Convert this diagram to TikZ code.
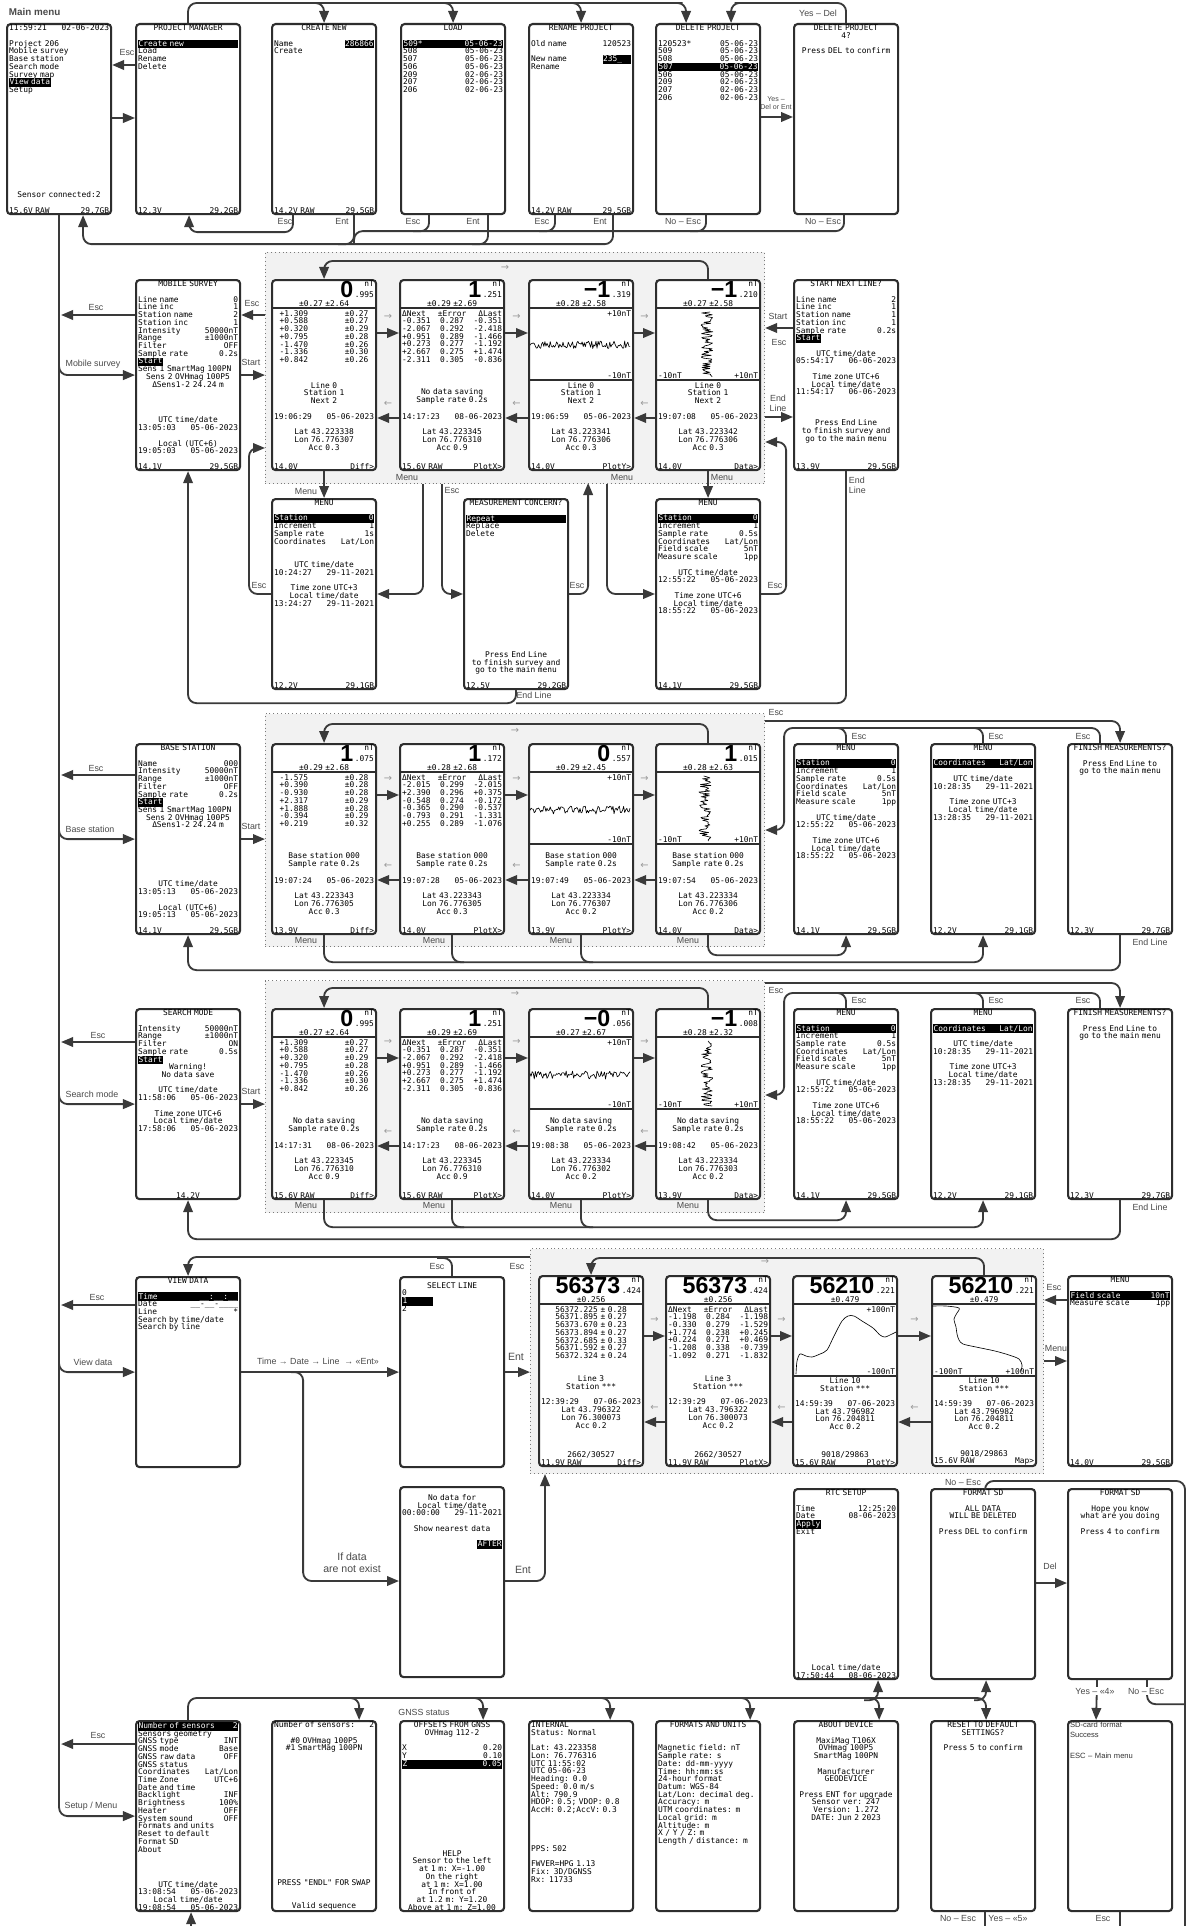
\documentclass[tikz,border=0pt]{standalone}
\usepackage{fontspec}
\usetikzlibrary{arrows.meta, calc}
\newfontfamily\scrfam{DejaVu Sans Mono}
\newfontfamily\lblfam{Liberation Sans}
\newfontfamily\hintfam{DejaVu Sans}
\definecolor{scrgrey}{HTML}{2E2E2E}
\definecolor{lnkgrey}{HTML}{3A3A3A}
\definecolor{lblgrey}{HTML}{4A4A4A}
\definecolor{zonebg}{HTML}{F2F2F2}
\definecolor{zoneline}{HTML}{7A7A7A}
\definecolor{hintgrey}{HTML}{9A9A9A}

\newcommand\scrfont{\scrfam\fontsize{5.6}{5.5}\selectfont\lineskiplimit=-10pt\relax}
\newcommand\lblfont{\lblfam\fontsize{6.3}{7}\selectfont}
\newcommand\bigfont{\lblfam\bfseries\fontsize{16.5}{16.5}\selectfont}
\newcommand\hintfont{\hintfam\fontsize{7}{7}\selectfont}

% screen text helpers
\newlength\scw \setlength\scw{2.5cm}
\newcommand\lr[2]{\makebox[\scw][l]{#1\hfill#2}}
\newcommand\ct[1]{\makebox[\scw][c]{#1}}
\newcommand\rt[1]{\makebox[\scw][r]{#1}}
\newcommand\lri[2]{\makebox[\scw][l]{\hspace{1.4mm}#1\hfill#2\hspace{1.4mm}}}
\newcommand\tri[3]{\makebox[\scw][l]{#1\hfill#2\hfill#3}}
\newcommand\hl[1]{{\setlength\fboxsep{0.4pt}\colorbox{black}{\textcolor{white}{\vphantom{Ay}#1}}}}
\newcommand\hlr[2]{\hl{\makebox[\dimexpr\scw-0.8pt\relax][l]{#1\hfill#2}}}
\newcommand\bk{\mbox{}}
\newcommand\bignum[2]{{\bigfont#1}\hspace{1.2pt}{\scrfont\setbox0\hbox{#2}\rlap{\raisebox{8pt}{\makebox[\wd0][r]{nT}}}\box0}}

\newcounter{tx}
\newcommand\tnode{\stepcounter{tx}\node (t\arabic{tx})}

% screens
\newcommand\scrn[3]{\node[scr] (#1) at (#2,#3) {};}
\newcommand\toptxt[2]{\tnode[sct, anchor=north] at ($(#1.north)+(0,1.5)$) {#2};}
\newcommand\attxt[3]{\tnode[sct, anchor=north] at ($(#1.north)+(0,#2)$) {#3};}
\newcommand\bottxt[2]{\tnode[sct, anchor=south] at ($(#1.south)+(0,-1.5)$) {#2};}
\newcommand\hdr[4]{%
  \tnode[inner sep=0pt, anchor=north east] at ($(#1.north east)+(-3,1)$) {\raisebox{0pt}[\height][0pt]{\bignum{#2}{#3}}};
  \tnode[sct, anchor=south] at ($(#1.north)+(0,28)$) {\ct{#4}};
  \draw[sepline] ($(#1.north west)+(0,29)$) -- ($(#1.north east)+(0,29)$);}
\newcommand\plotx[2]{%
  \draw[sepline] ($(#1.north west)+(0,101)$) -- ($(#1.north east)+(0,101)$);
  \tnode[sct, anchor=north] at ($(#1.north)+(0,31)$) {\rt{+#2}};
  \tnode[sct, anchor=south] at ($(#1.north)+(0,100)$) {\rt{-#2}};}
\newcommand\ploty[2]{%
  \draw[sepline] ($(#1.north west)+(0,101)$) -- ($(#1.north east)+(0,101)$);
  \tnode[sct, anchor=south] at ($(#1.north)+(0,100)$) {\lr{-#2}{+#2}};}
\newcommand\noisex[3]{%
  \begin{scope}[shift={(#1.north west)}]
    \draw[trace] plot[domain=2:102, samples=95] (\x,{#2+#3*rand});
  \end{scope}}
\newcommand\noisey[3]{%
  \begin{scope}[shift={(#1.north west)}]
    \draw[trace] plot[domain=33:98, samples=70] ({#2+#3*rand},\x);
  \end{scope}}
\newcommand\lowp[9]{%
  \tnode[sct, anchor=south] at ($(#1.north)+(0,125)$) {#2};
  \tnode[sct, anchor=north] at ($(#1.north)+(0,134)$) {\lr{#3}{#4}\\\bk\\\ct{Lat #5}\\\ct{Lon #6}\\\ct{Acc #7}};
  \tnode[sct, anchor=south] at ($(#1.south)+(0,-1.5)$) {\lr{#8}{#9}};}
\newcommand\pair[4]{%
  \draw[arr] ($(#1.north east)+(0,#3)$) -- ($(#2.north west)+(0,#3)$);
  \draw[arr] ($(#2.north west)+(0,#4)$) -- ($(#1.north east)+(0,#4)$);
  \tnode[hint] at ($(#1.north east)!0.5!(#2.north west)+(0,#3-16)$) {→};
  \tnode[hint] at ($(#1.north east)!0.5!(#2.north west)+(0,#4-14)$) {←};}
\newcommand\lab[3]{\tnode[lbl] at (#1,#2) {#3};}

\newcommand\difflist{\lri{+1.309}{±0.27}\\\lri{+0.588}{±0.27}\\\lri{+0.320}{±0.29}\\\lri{+0.795}{±0.28}\\\lri{-1.470}{±0.26}\\\lri{-1.336}{±0.30}\\\lri{+0.842}{±0.26}}
\newcommand\errlist{\tri{ΔNext}{±Error}{ΔLast}\\\tri{-0.351}{0.287}{-0.351}\\\tri{-2.067}{0.292}{-2.418}\\\tri{+0.951}{0.289}{-1.466}\\\tri{+0.273}{0.277}{-1.192}\\\tri{+2.667}{0.275}{+1.474}\\\tri{-2.311}{0.305}{-0.836}}
\newcommand\menufull[1]{%
  \toptxt{#1}{\ct{MENU}\\\bk\\\hlr{Station}{0}\\\lr{Increment}{1}\\\lr{Sample rate}{0.5s}\\\lr{Coordinates}{Lat/Lon}\\\lr{Field scale}{5nT}\\\lr{Measure scale}{1pp}\\\bk\\\ct{UTC time/date}\\\lr{12:55:22}{05-06-2023}\\\bk\\\ct{Time zone UTC+6}\\\ct{Local time/date}\\\lr{18:55:22}{05-06-2023}}
  \bottxt{#1}{\lr{14.1V}{29.5GB}}}
\newcommand\menucoord[1]{%
  \toptxt{#1}{\ct{MENU}\\\bk\\\hlr{Coordinates}{Lat/Lon}\\\bk\\\ct{UTC time/date}\\\lr{10:28:35}{29-11-2021}\\\bk\\\ct{Time zone UTC+3}\\\ct{Local time/date}\\\lr{13:28:35}{29-11-2021}}
  \bottxt{#1}{\lr{12.2V}{29.1GB}}}
\newcommand\finish[1]{%
  \toptxt{#1}{\ct{FINISH MEASUREMENTS?}\\\bk\\\ct{Press End Line to}\\\ct{go to the main menu}}
  \bottxt{#1}{\lr{12.3V}{29.7GB}}}

\begin{document}
\begin{tikzpicture}[x=0.025cm, y=-0.025cm,
  scr/.style={draw=scrgrey, line width=1.5pt, rounded corners=2.5pt, fill=white,
    minimum width=2.6cm, minimum height=4.75cm, inner sep=0pt, anchor=north west},
  sct/.style={font=\scrfont, text width=2.5cm, align=left, inner sep=0pt},
  zone/.style={draw=zoneline, dotted, line width=0.7pt, fill=zonebg, anchor=north west, inner sep=0pt},
  arr/.style={-{Triangle[length=3mm,width=2.4mm]}, line width=1.3pt, draw=lnkgrey, rounded corners=6pt},
  lnk/.style={line width=1.3pt, draw=lnkgrey, rounded corners=6pt},
  lbl/.style={font=\lblfont, text=lblgrey, inner sep=0.5pt, align=center},
  hint/.style={font=\hintfont, text=hintgrey, inner sep=0pt},
  sepline/.style={line width=0.9pt, draw=scrgrey},
  trace/.style={line width=0.45pt, draw=black, line join=round}]
\useasboundingbox (0,0) rectangle (1192,1926);
\fill[white] (0,0) rectangle (1192,1926);
\pgfmathsetseed{11}

% grey zones of the live screens
\node[zone, minimum width=12.475cm, minimum height=5.775cm] (mzone) at (265,252) {};
\node[zone, minimum width=12.475cm, minimum height=5.825cm] (bzone) at (265,713) {};
\node[zone, minimum width=12.475cm, minimum height=5.8cm] (szone) at (265,980) {};
\node[zone, minimum width=12.825cm, minimum height=5.625cm] (vzone) at (530,1248) {};

%% project row
\tnode[font=\lblfam\bfseries\fontsize{7}{8}\selectfont, text=lblgrey, anchor=west] at (4,12) {Main menu};
\scrn{mm}{6}{23}
\toptxt{mm}{\lr{11:59:21}{02-06-2023}\\\bk\\Project 206\\Mobile survey\\Base station\\Search mode\\Survey map\\\hl{View data}\\Setup}
\bottxt{mm}{\ct{Sensor connected:2}\\\bk\\\lr{15.6V RAW}{29.7GB}}
\scrn{pm}{135}{23}
\toptxt{pm}{\ct{PROJECT MANAGER}\\\bk\\\hlr{Create new}{}\\Load\\Rename\\Delete}
\bottxt{pm}{\lr{12.3V}{29.2GB}}
\scrn{cn}{271}{23}
\toptxt{cn}{\ct{CREATE NEW}\\\bk\\\lr{Name}{\hl{286866}}\\Create}
\bottxt{cn}{\lr{14.2V RAW}{29.5GB}}
\scrn{ld}{400}{23}
\toptxt{ld}{\ct{LOAD}\\\bk\\\hlr{509*}{05-06-23}\\\lr{508}{05-06-23}\\\lr{507}{05-06-23}\\\lr{506}{05-06-23}\\\lr{209}{02-06-23}\\\lr{207}{02-06-23}\\\lr{206}{02-06-23}}
\scrn{rn}{528}{23}
\toptxt{rn}{\ct{RENAME PROJECT}\\\bk\\\lr{Old name}{120523}\\\bk\\\lr{New name}{\hl{235\_\hspace{6pt}}}\\Rename}
\bottxt{rn}{\lr{14.2V RAW}{29.5GB}}
\scrn{dl}{655}{23}
\toptxt{dl}{\ct{DELETE PROJECT}\\\bk\\\lr{120523*}{05-06-23}\\\lr{509}{05-06-23}\\\lr{508}{05-06-23}\\\hlr{507}{05-06-23}\\\lr{506}{05-06-23}\\\lr{209}{02-06-23}\\\lr{207}{02-06-23}\\\lr{206}{02-06-23}}
\scrn{dc}{793}{23}
\toptxt{dc}{\ct{DELETE PROJECT}\\\ct{4?}\\\bk\\\ct{Press DEL to confirm}}

\draw[arr] ($(pm.north west)+(0,42)$) -- ($(mm.north east)+(0,42)$);
\draw[arr] ($(mm.north east)+(0,95)$) -- ($(pm.north west)+(0,95)$);
\draw[arr] (pm.north) |- ($(dl.north)+(-34,-20)$) -| ($(dl.north)+(-22,0)$);
\draw[arr] ($(cn.north)+(-12,-20)$) -| (cn.north);
\draw[arr] ($(ld.north)+(-12,-20)$) -| (ld.north);
\draw[arr] ($(rn.north)+(-12,-20)$) -| (rn.north);
\draw[arr] (dc.north) |- ($(dl.north)+(35,-20)$) -| ($(dl.north)+(23,0)$);
\draw[arr] ($(dl.north east)+(0,94)$) -- ($(dc.north west)+(0,94)$);
\draw[arr] ($(cn.south)+(-31,0)$) -- ++(0,17) -| ($(pm.south)+(1,0)$);
\draw[arr] ($(rn.south)+(32,0)$) |- ($(mm.south)+(24,29)$) -- ($(mm.south)+(24,0)$);
\draw[lnk] ($(cn.south)+(30,0)$) |- ($(cn.south)+(14,29)$);
\draw[lnk] ($(ld.south)+(35,0)$) |- ($(ld.south)+(19,29)$);
\draw[lnk] ($(dc.south)+(-2,0)$) |- ($(cn.south)+(30,16)$) -- ($(cn.south)+(30,29)$);
\draw[lnk] ($(ld.south)+(-24,0)$) |- ($(ld.south)+(-40,16)$);
\draw[lnk] ($(rn.south)+(-26,0)$) |- ($(rn.south)+(-42,16)$);
\draw[lnk] ($(dl.south)+(-2,0)$) |- ($(dl.south)+(-18,16)$);
\lab{127}{52}{Esc}
\lab{818}{13}{Yes – Del}
\tnode[lbl, font=\lblfam\fontsize{5}{5.5}\selectfont] at (776,103) {Yes –\\Del or Ent};
\lab{285}{221}{Esc} \lab{342}{221}{Ent} \lab{413}{221}{Esc} \lab{473}{221}{Ent}
\lab{542}{221}{Esc} \lab{600}{221}{Ent} \lab{683}{221}{No – Esc} \lab{823}{221}{No – Esc}

%% mobile survey
\scrn{ms}{135}{279}
\toptxt{ms}{\ct{MOBILE SURVEY}\\\bk\\\lr{Line name}{0}\\\lr{Line inc}{1}\\\lr{Station name}{2}\\\lr{Station inc}{1}\\\lr{Intensity}{50000nT}\\\lr{Range}{±1000nT}\\\lr{Filter}{OFF}\\\lr{Sample rate}{0.2s}\\\hl{Start}\\Sens 1 SmartMag 100PN\\\ct{Sens 2 OVHmag 100P5}\\\ct{ΔSens1-2 24.24 m}}
\bottxt{ms}{\ct{UTC time/date}\\\lr{13:05:03}{05-06-2023}\\\bk\\\ct{Local (UTC+6)}\\\lr{19:05:03}{05-06-2023}\\\bk\\\lr{14.1V}{29.5GB}}
\scrn{m1}{271}{279}
\hdr{m1}{0}{.995}{±0.27 ±2.64}
\attxt{m1}{31}{\difflist}
\lowp{m1}{\ct{Line 0}\\\ct{Station 1}\\\ct{Next 2}}{19:06:29}{05-06-2023}{43.223338}{76.776307}{0.3}{14.0V}{Diff>}
\scrn{m2}{399}{279}
\hdr{m2}{1}{.251}{±0.29 ±2.69}
\attxt{m2}{31}{\errlist}
\lowp{m2}{\ct{No data saving}\\\ct{Sample rate 0.2s}}{14:17:23}{08-06-2023}{43.223345}{76.776310}{0.9}{15.6V RAW}{PlotX>}
\scrn{m3}{528}{279}
\hdr{m3}{−1}{.319}{±0.28 ±2.58}
\plotx{m3}{10nT} \noisex{m3}{66}{4}
\lowp{m3}{\ct{Line 0}\\\ct{Station 1}\\\ct{Next 2}}{19:06:59}{05-06-2023}{43.223341}{76.776306}{0.3}{14.0V}{PlotY>}
\scrn{m4}{655}{279}
\hdr{m4}{−1}{.210}{±0.27 ±2.58}
\ploty{m4}{10nT} \noisey{m4}{52}{6}
\lowp{m4}{\ct{Line 0}\\\ct{Station 1}\\\ct{Next 2}}{19:07:08}{05-06-2023}{43.223342}{76.776306}{0.3}{14.0V}{Data>}
\scrn{snl}{793}{279}
\toptxt{snl}{\ct{START NEXT LINE?}\\\bk\\\lr{Line name}{2}\\\lr{Line inc}{1}\\\lr{Station name}{1}\\\lr{Station inc}{1}\\\lr{Sample rate}{0.2s}\\\hl{Start}\\\bk\\\ct{UTC time/date}\\\lr{05:54:17}{06-06-2023}\\\bk\\\ct{Time zone UTC+6}\\\ct{Local time/date}\\\lr{11:54:17}{06-06-2023}\\\bk\\\bk\\\bk\\\ct{Press End Line}\\\ct{to finish survey and}\\\ct{go to the main menu}}
\bottxt{snl}{\lr{13.9V}{29.5GB}}
\scrn{mn1}{271}{498}
\toptxt{mn1}{\ct{MENU}\\\bk\\\hlr{Station}{0}\\\lr{Increment}{1}\\\lr{Sample rate}{1s}\\\lr{Coordinates}{Lat/Lon}\\\bk\\\bk\\\ct{UTC time/date}\\\lr{10:24:27}{29-11-2021}\\\bk\\\ct{Time zone UTC+3}\\\ct{Local time/date}\\\lr{13:24:27}{29-11-2021}}
\bottxt{mn1}{\lr{12.2V}{29.1GB}}
\scrn{mc}{463}{498}
\toptxt{mc}{\ct{MEASUREMENT CONCERN?}\\\bk\\\hlr{Repeat}{}\\Replace\\Delete}
\bottxt{mc}{\ct{Press End Line}\\\ct{to finish survey and}\\\ct{go to the main menu}\\\bk\\\lr{12.5V}{29.2GB}}
\scrn{mn2}{655}{498}
\menufull{mn2}

\draw[arr] ($(mm.south |- ms.west)+(0,-18)$) |- (ms.west);
\draw[arr] ($(ms.north west)+(0,36)$) -- ($(mm.south |- ms.north west)+(2,36)$);
\draw[arr] (ms.east) -- (ms.east -| mzone.west);
\draw[arr] ($(mzone.west |- ms.north)+(0,36)$) -- ($(ms.north east)+(0,36)$);
\pair{m1}{m2}{54}{139} \pair{m2}{m3}{54}{139} \pair{m3}{m4}{54}{139}
\draw[arr] (m4.north) -- ++(0,-18) -| (m1.north);
\tnode[hint] at (505,268) {→};
\draw[arr] (m1.south) -- (mn1.north);
\draw[arr] ($(mn1.north west)+(0,96)$) -- ++(-22,0) |- ($(mzone.north west)+(0,196)$);
\draw[arr] ($(m2.south)+(-29,13)$) |- ($(mn1.north east)+(0,96)$);
\draw[arr] ($(m2.south)+(-10,13)$) |- ($(mc.north west)+(0,96)$);
\draw[arr] ($(mc.north east)+(0,96)$) -| ($(mc.north east)+(19,-15)$);
\draw[arr] (mc.south) |- ($(ms.south)+(0,232)$) -- (ms.south);
\draw[lnk] (snl.south) |- ($(mc.south)+(0,13)$);
\draw[arr] ($(m3.south)+(26,13)$) |- ($(mn2.north west)+(0,96)$);
\draw[arr] (m4.south) -- (mn2.north);
\draw[arr] ($(mn2.north east)+(0,96)$) -- ++(25,0) |- ($(mzone.north east)+(0,190)$);
\draw[arr] ($(snl.north west)+(0,49)$) -- ($(mzone.north east |- snl.north west)+(0,49)$);
\draw[arr] ($(mzone.north east |- snl.north west)+(0,138)$) -- ($(snl.north west)+(0,138)$);
\lab{96}{307}{Esc} \lab{93}{364}{Mobile survey}
\lab{252}{303}{Esc} \lab{251}{362}{Start}
\lab{306}{491}{Menu} \lab{407}{477}{Menu} \lab{452}{490}{Esc}
\lab{259}{585}{Esc} \lab{577}{585}{Esc} \lab{775}{585}{Esc}
\lab{622}{477}{Menu} \lab{722}{477}{Menu}
\lab{534}{695}{End Line}
\tnode[lbl, anchor=north west, align=left] at (848,476) {End\\Line};
\lab{778}{316}{Start} \lab{779}{342}{Esc}
\tnode[lbl] at (778,403) {End\\Line};

%% base station
\scrn{bs}{135}{743}
\toptxt{bs}{\ct{BASE STATION}\\\bk\\\lr{Name}{000}\\\lr{Intensity}{50000nT}\\\lr{Range}{±1000nT}\\\lr{Filter}{OFF}\\\lr{Sample rate}{0.2s}\\\hl{Start}\\Sens 1 SmartMag 100PN\\\ct{Sens 2 OVHmag 100P5}\\\ct{ΔSens1-2 24.24 m}}
\bottxt{bs}{\ct{UTC time/date}\\\lr{13:05:13}{05-06-2023}\\\bk\\\ct{Local (UTC+6)}\\\lr{19:05:13}{05-06-2023}\\\bk\\\lr{14.1V}{29.5GB}}
\scrn{b1}{271}{743}
\hdr{b1}{1}{.075}{±0.29 ±2.68}
\attxt{b1}{31}{\lri{-1.575}{±0.28}\\\lri{+0.390}{±0.28}\\\lri{-0.930}{±0.28}\\\lri{+2.317}{±0.29}\\\lri{+1.888}{±0.28}\\\lri{-0.394}{±0.29}\\\lri{+0.219}{±0.32}}
\lowp{b1}{\ct{Base station 000}\\\ct{Sample rate 0.2s}}{19:07:24}{05-06-2023}{43.223343}{76.776305}{0.3}{13.9V}{Diff>}
\scrn{b2}{399}{743}
\hdr{b2}{1}{.172}{±0.28 ±2.68}
\attxt{b2}{31}{\tri{ΔNext}{±Error}{ΔLast}\\\tri{-2.015}{0.299}{-2.015}\\\tri{+2.390}{0.296}{+0.375}\\\tri{-0.548}{0.274}{-0.172}\\\tri{-0.365}{0.290}{-0.537}\\\tri{-0.793}{0.291}{-1.331}\\\tri{+0.255}{0.289}{-1.076}}
\lowp{b2}{\ct{Base station 000}\\\ct{Sample rate 0.2s}}{19:07:28}{05-06-2023}{43.223343}{76.776305}{0.3}{14.0V}{PlotX>}
\scrn{b3}{528}{743}
\hdr{b3}{0}{.557}{±0.29 ±2.45}
\plotx{b3}{10nT} \noisex{b3}{67}{4}
\lowp{b3}{\ct{Base station 000}\\\ct{Sample rate 0.2s}}{19:07:49}{05-06-2023}{43.223334}{76.776307}{0.2}{13.9V}{PlotY>}
\scrn{b4}{655}{743}
\hdr{b4}{1}{.015}{±0.28 ±2.63}
\ploty{b4}{10nT} \noisey{b4}{50}{6}
\lowp{b4}{\ct{Base station 000}\\\ct{Sample rate 0.2s}}{19:07:54}{05-06-2023}{43.223334}{76.776306}{0.2}{14.0V}{Data>}
\scrn{bm1}{793}{743} \menufull{bm1}
\scrn{bm2}{930}{743} \menucoord{bm2}
\scrn{bfin}{1067}{743} \finish{bfin}

\draw[arr] ($(mm.south |- bs.west)+(0,-18)$) |- (bs.west);
\draw[arr] ($(bs.north west)+(0,32)$) -- ($(mm.south |- bs.north west)+(2,32)$);
\draw[arr] (bs.east) -- (bs.east -| bzone.west);
\pair{b1}{b2}{52}{137} \pair{b2}{b3}{52}{137} \pair{b3}{b4}{52}{137}
\draw[arr] (b4.north) -- ++(0,-19) -| (b1.north);
\tnode[hint] at (515,731) {→};
\draw[arr] ($(bzone.north east)+(0,8)$) -| (bfin.north);
\draw[arr] ($(bfin.north)+(-20,0)$) |- ($(bzone.north east)+(19,15)$) |- ($(bzone.north east)+(0,117)$);
\draw[lnk] (bm1.north) |- ($(bm1.north)+(-14,-15)$);
\draw[lnk] (bm2.north) |- ($(bm2.north)+(-14,-15)$);
\draw[arr] (b4.south) -- ++(0,20) -| (bm1.south);
\draw[arr] (b1.south) -- ++(0,27) -| (bm2.south);
\draw[lnk] (b2.south) |- ($(b2.south)+(12,27)$);
\draw[lnk] (b3.south) |- ($(b3.south)+(12,27)$);
\draw[arr] (bfin.south) -- ++(0,35) -| (bs.south);
\lab{96}{768}{Esc} \lab{90}{829}{Base station} \lab{251}{826}{Start}
\lab{306}{940}{Menu} \lab{434}{940}{Menu} \lab{561}{940}{Menu} \lab{688}{940}{Menu}
\lab{776}{712}{Esc} \lab{859}{736}{Esc} \lab{996}{736}{Esc} \lab{1083}{736}{Esc}
\lab{1150}{942}{End Line}

%% search mode
\scrn{sm}{135}{1008}
\toptxt{sm}{\ct{SEARCH MODE}\\\bk\\\lr{Intensity}{50000nT}\\\lr{Range}{±1000nT}\\\lr{Filter}{ON}\\\lr{Sample rate}{0.5s}\\\hl{Start}\\\ct{Warning!}\\\ct{No data save}\\\bk\\\ct{UTC time/date}\\\lr{11:58:06}{05-06-2023}\\\bk\\\ct{Time zone UTC+6}\\\ct{Local time/date}\\\lr{17:58:06}{05-06-2023}}
\bottxt{sm}{\ct{14.2V}}
\scrn{s1}{271}{1008}
\hdr{s1}{0}{.995}{±0.27 ±2.64}
\attxt{s1}{31}{\difflist}
\lowp{s1}{\ct{No data saving}\\\ct{Sample rate 0.2s}}{14:17:31}{08-06-2023}{43.223345}{76.776310}{0.9}{15.6V RAW}{Diff>}
\scrn{s2}{399}{1008}
\hdr{s2}{1}{.251}{±0.29 ±2.69}
\attxt{s2}{31}{\errlist}
\lowp{s2}{\ct{No data saving}\\\ct{Sample rate 0.2s}}{14:17:23}{08-06-2023}{43.223345}{76.776310}{0.9}{15.6V RAW}{PlotX>}
\scrn{s3}{528}{1008}
\hdr{s3}{−0}{.056}{±0.27 ±2.67}
\plotx{s3}{10nT} \noisex{s3}{67}{4}
\lowp{s3}{\ct{No data saving}\\\ct{Sample rate 0.2s}}{19:08:38}{05-06-2023}{43.223334}{76.776302}{0.2}{14.0V}{PlotY>}
\scrn{s4}{655}{1008}
\hdr{s4}{−1}{.008}{±0.28 ±2.32}
\ploty{s4}{10nT} \noisey{s4}{52}{6}
\lowp{s4}{\ct{No data saving}\\\ct{Sample rate 0.2s}}{19:08:42}{05-06-2023}{43.223334}{76.776303}{0.2}{13.9V}{Data>}
\scrn{sm1}{793}{1008} \menufull{sm1}
\scrn{sm2}{930}{1008} \menucoord{sm2}
\scrn{sfin}{1067}{1008} \finish{sfin}

\draw[arr] ($(mm.south |- sm.west)+(0,-18)$) |- (sm.west);
\draw[arr] ($(sm.north west)+(0,34)$) -- ($(mm.south |- sm.north west)+(2,34)$);
\draw[arr] (sm.east) -- (sm.east -| szone.west);
\pair{s1}{s2}{50}{138} \pair{s2}{s3}{50}{138} \pair{s3}{s4}{50}{138}
\draw[arr] (s4.north) -- ++(0,-20) -| (s1.north);
\tnode[hint] at (515,994) {→};
\draw[arr] ($(szone.north east)+(0,3)$) -| (sfin.north);
\draw[arr] ($(sfin.north)+(-20,0)$) |- ($(szone.north east)+(19,13)$) |- ($(szone.north east)+(0,115)$);
\draw[lnk] (sm1.north) |- ($(sm1.north)+(-14,-15)$);
\draw[lnk] (sm2.north) |- ($(sm2.north)+(-14,-15)$);
\draw[arr] (s4.south) -- ++(0,20) -| (sm1.south);
\draw[arr] (s1.south) -- ++(0,27) -| (sm2.south);
\draw[lnk] (s2.south) |- ($(s2.south)+(12,27)$);
\draw[lnk] (s3.south) |- ($(s3.south)+(12,27)$);
\draw[arr] (sfin.south) -- ++(0,39) -| (sm.south);
\lab{98}{1035}{Esc} \lab{92}{1094}{Search mode} \lab{251}{1091}{Start}
\lab{306}{1205}{Menu} \lab{434}{1205}{Menu} \lab{561}{1205}{Menu} \lab{688}{1205}{Menu}
\lab{776}{990}{Esc} \lab{859}{1000}{Esc} \lab{996}{1000}{Esc} \lab{1083}{1000}{Esc}
\lab{1150}{1207}{End Line}

%% view data
\scrn{vd}{135}{1276}
\toptxt{vd}{\ct{VIEW DATA}\\\bk\\\hlr{Time}{\_\_:\_\_:\_\_}\\\lr{Date}{\_\_-\_\_-\_\_\_\_}\\\lr{Line}{*}\\Search by time/date\\Search by line}
\scrn{sl}{399}{1276}
\attxt{sl}{6}{\ct{SELECT LINE}\\0\\\hl{1\hspace{18pt}}\\2}
\scrn{v1}{538}{1275}
\hdr{v1}{56373}{.424}{±0.256}
\attxt{v1}{31}{\ct{56372.225 ± 0.28}\\\ct{56371.895 ± 0.27}\\\ct{56373.670 ± 0.23}\\\ct{56373.894 ± 0.27}\\\ct{56372.685 ± 0.33}\\\ct{56371.592 ± 0.27}\\\ct{56372.324 ± 0.24}\\\bk\\\bk\\\ct{Line 3}\\\ct{Station ***}\\\bk\\\lr{12:39:29}{07-06-2023}\\\ct{Lat 43.796322}\\\ct{Lon 76.300073}\\\ct{Acc 0.2}}
\bottxt{v1}{\ct{2662/30527}\\\lr{11.9V RAW}{Diff>}}
\scrn{v2}{665}{1275}
\hdr{v2}{56373}{.424}{±0.256}
\attxt{v2}{31}{\tri{ΔNext}{±Error}{ΔLast}\\\tri{-1.198}{0.284}{-1.198}\\\tri{-0.330}{0.279}{-1.529}\\\tri{+1.774}{0.238}{+0.245}\\\tri{+0.224}{0.271}{+0.469}\\\tri{-1.208}{0.338}{-0.739}\\\tri{-1.092}{0.271}{-1.832}\\\bk\\\bk\\\ct{Line 3}\\\ct{Station ***}\\\bk\\\lr{12:39:29}{07-06-2023}\\\ct{Lat 43.796322}\\\ct{Lon 76.300073}\\\ct{Acc 0.2}}
\bottxt{v2}{\ct{2662/30527}\\\lr{11.9V RAW}{PlotX>}}
\scrn{v3}{792}{1275}
\hdr{v3}{56210}{.221}{±0.479}
\plotx{v3}{100nT}
\begin{scope}[shift={(v3.north west)}]
  \draw[trace] plot[smooth] coordinates {(4,99) (5,86) (8,79) (14,81) (20,82) (28,79) (35,75) (42,61) (50,46) (56,41) (62,41) (70,46) (81,53) (88,60) (93,62) (100,59) (104,57)};
\end{scope}
\attxt{v3}{102}{\ct{Line 10}\\\ct{Station ***}\\\bk\\\lr{14:59:39}{07-06-2023}\\\ct{Lat 43.796982}\\\ct{Lon 76.204811}\\\ct{Acc 0.2}}
\bottxt{v3}{\ct{9018/29863}\\\lr{15.6V RAW}{PlotY>}}
\scrn{v4}{931}{1275}
\hdr{v4}{56210}{.221}{±0.479}
\ploty{v4}{100nT}
\begin{scope}[shift={(v4.north west)}]
  \draw[trace] plot[smooth] coordinates {(1,31) (15,31) (28,33) (26,38) (23,44) (25,52) (26,59) (28,65) (32,69) (45,72) (64,76) (78,80) (88,84) (91,90) (90,96)};
\end{scope}
\attxt{v4}{102}{\ct{Line 10}\\\ct{Station ***}\\\bk\\\lr{14:59:39}{07-06-2023}\\\ct{Lat 43.796982}\\\ct{Lon 76.204811}\\\ct{Acc 0.2}}
\bottxt{v4}{\ct{9018/29863}\\\lr{15.6V RAW}{Map>}}
\scrn{vm}{1067}{1275}
\toptxt{vm}{\ct{MENU}\\\bk\\\hlr{Field scale}{10nT}\\\lr{Measure scale}{1pp}}
\bottxt{vm}{\lr{14.0V}{29.5GB}}

%% no data, clock and format screens
\scrn{nd}{399}{1486}
\attxt{nd}{8}{\ct{No data for}\\\ct{Local time/date}\\\lr{00:00:00}{29-11-2021}\\\bk\\\ct{Show nearest data}\\\bk\\\rt{\hl{AFTER}}}
\scrn{rtc}{793}{1488}
\toptxt{rtc}{\ct{RTC SETUP}\\\bk\\\lr{Time}{12:25:20}\\\lr{Date}{08-06-2023}\\\hl{Apply}\\Exit}
\bottxt{rtc}{\ct{Local time/date}\\\lr{17:50:44}{08-06-2023}}
\scrn{fsd}{930}{1488}
\toptxt{fsd}{\ct{FORMAT SD}\\\bk\\\ct{ALL DATA}\\\ct{WILL BE DELETED}\\\bk\\\ct{Press DEL to confirm}}
\scrn{fsd2}{1067}{1488}
\toptxt{fsd2}{\ct{FORMAT SD}\\\bk\\\ct{Hope you know}\\\ct{what are you doing}\\\bk\\\ct{Press 4 to confirm}}

\draw[arr] ($(mm.south |- vd.west)+(0,-18)$) |- (vd.west);
\draw[arr] ($(vd.north west)+(0,29)$) -- ($(mm.south |- vd.north west)+(2,29)$);
\draw[arr] (vd.east) -- (sl.west);
\draw[arr] ($(vd.east)+(50,0)$) -| ($(vd.east)+(62,100)$) |- ($(nd.north west)+(0,95)$);
\draw[arr] (sl.east) -- (sl.east -| vzone.west);
\draw[arr] ($(nd.north east)+(0,95)$) -| ($(vzone.south west)+(15,0)$);
\draw[arr] ($(vzone.north west)+(0,9)$) -| (vd.north);
\draw[lnk] (sl.north) |- ($(sl.north)+(-15,-18)$);
\pair{v1}{v2}{61}{147} \pair{v2}{v3}{61}{147} \pair{v3}{v4}{61}{147}
\draw[arr] (v4.north) -- ++(0,-17) -| (v1.north);
\tnode[hint] at (765,1262) {→};
\draw[arr] ($(vm.north west)+(0,25)$) -- ($(vzone.north east |- vm.north west)+(0,25)$);
\draw[arr] ($(vzone.north east |- vm.north west)+(0,86)$) -- ($(vm.north west)+(0,86)$);
\lab{97}{1297}{Esc} \lab{93}{1362}{View data}
\lab{318}{1361}{Time → Date → Line \ → «Ent»}
\lab{437}{1266}{Esc} \lab{517}{1266}{Esc}
\tnode[lbl, font=\lblfam\fontsize{7.5}{8.5}\selectfont] at (516,1357) {Ent};
\tnode[lbl, font=\lblfam\fontsize{7.5}{8.5}\selectfont] at (352,1563) {If data\\are not exist};
\tnode[lbl, font=\lblfam\fontsize{7.5}{8.5}\selectfont] at (523,1570) {Ent};
\lab{1054}{1287}{Esc} \lab{1056}{1348}{Menu}

%% setup row
\scrn{st}{135}{1720}
\toptxt{st}{\hlr{Number of sensors}{2}\\Sensors geometry\\\lr{GNSS type}{INT}\\\lr{GNSS mode}{Base}\\\lr{GNSS raw data}{OFF}\\GNSS status\\\lr{Coordinates}{Lat/Lon}\\\lr{Time Zone}{UTC+6}\\Date and time\\\lr{Backlight}{INF}\\\lr{Brightness}{100\%}\\\lr{Heater}{OFF}\\\lr{System sound}{OFF}\\Formats and units\\Reset to default\\Format SD\\About}
\bottxt{st}{\ct{UTC time/date}\\\lr{13:08:54}{05-06-2023}\\\ct{Local time/date}\\\lr{19:08:54}{05-06-2023}}
\scrn{ns}{271}{1720}
\toptxt{ns}{\lr{Number of sensors:}{2}\\\bk\\\ct{\#0 OVHmag 100P5}\\\ct{\#1 SmartMag 100PN}}
\bottxt{ns}{\ct{PRESS "ENDL" FOR SWAP}\\\bk\\\bk\\\ct{Valid sequence}}
\scrn{gn}{399}{1720}
\toptxt{gn}{\ct{OFFSETS FROM GNSS}\\\ct{OVHmag 112-2}\\\bk\\\lr{X}{0.20}\\\lr{Y}{0.10}\\\hlr{Z}{0.05}}
\bottxt{gn}{\ct{HELP}\\\ct{Sensor to the left}\\\ct{at 1 m: X=-1.00}\\\ct{On the right}\\\ct{at 1 m: X=1.00}\\\ct{In front of}\\\ct{at 1.2 m: Y=1.20}\\\ct{Above at 1 m: Z=1.00}}
\scrn{it}{528}{1720}
\toptxt{it}{INTERNAL\\Status: Normal\\\bk\\Lat: 43.223358\\Lon: 76.776316\\UTC 11:55:02\\UTC 05-06-23\\Heading: 0.0\\Speed: 0.0 m/s\\Alt: 790.9\\HDOP: 0.5; VDOP: 0.8\\AccH: 0.2;AccV: 0.3\\\bk\\\bk\\\bk\\\bk\\PPS: 502\\\bk\\FWVER=HPG 1.13\\Fix: 3D/DGNSS\\Rx: 11733}
\scrn{fu}{655}{1720}
\toptxt{fu}{\ct{FORMATS AND UNITS}\\\bk\\\bk\\Magnetic field: nT\\Sample rate: s\\Date: dd-mm-yyyy\\Time: hh:mm:ss\\24-hour format\\Datum: WGS-84\\Lat/Lon: decimal deg.\\Accuracy: m\\UTM coordinates: m\\Local grid: m\\Altitude: m\\X / Y / Z: m\\Length / distance: m}
\scrn{ab}{793}{1720}
\toptxt{ab}{\ct{ABOUT DEVICE}\\\bk\\\ct{MaxiMag T106X}\\\ct{OVHmag 100P5}\\\ct{SmartMag 100PN}\\\bk\\\ct{Manufacturer}\\\ct{GEODEVICE}\\\bk\\\ct{Press ENT for upgrade}\\\ct{Sensor ver: 247}\\\ct{Version: 1.272}\\\ct{DATE: Jun 2 2023}}
\scrn{rs}{930}{1720}
\toptxt{rs}{\ct{RESET TO DEFAULT}\\\ct{SETTINGS?}\\\bk\\\ct{Press 5 to confirm}}
\scrn{sdok}{1067}{1720}
\tnode[sct, font=\lblfam\fontsize{5.4}{7.2}\selectfont, text=black!80, anchor=north] at ($(sdok.north)+(0,2)$) {SD-card format\\Success\\\bk\\ESC – Main menu};

\draw[arr] (mm.south) |- (st.west);
\coordinate (rside) at (1185,1926);
\coordinate (stin) at ($(st.south)+(3,16)$);
\coordinate (stesc) at ($(mm.south |- st.north west)+(2,24)$);
\draw[arr] ($(st.north west)+(0,24)$) -- (stesc);
\draw[arr] ($(fsd.north east)+(0,95)$) -- ($(fsd2.north west)+(0,95)$);
\draw[lnk] ($(fsd.north)+(2,0)$) |- ($(rside |- fsd.north)+(0,-7)$) -- (rside);
\draw[lnk] ($(fsd2.south)+(27,0)$) |- ($(rside |- fsd2.south)+(0,24)$);
\draw[arr] ($(fsd2.south)+(-23,0)$) -- ($(sdok.north)+(-24,0)$);
\draw[lnk] (st.north) |- ($(rs.north)+(-10,-22)$);
\draw[arr] ($(ns.north east)+(-32,-22)$) -| ($(ns.north east)+(-18,0)$);
\draw[arr] ($(gn.north east)+(-36,-22)$) -| ($(gn.north east)+(-22,0)$);
\draw[arr] ($(it.north east)+(-38,-22)$) -| ($(it.north east)+(-24,0)$);
\draw[arr] ($(fu.north east)+(-25,-22)$) -| ($(fu.north east)+(-11,0)$);
\draw[arr] ($(ab.north east)+(-36,-22)$) -| ($(ab.north east)+(-20,0)$);
\draw[arr] ($(rs.north)+(-10,-22)$) -| ($(rs.north)+(3,0)$);
\draw[arr] ($(rtc.south)+(18,20)$) -| ($(rtc.south)+(32,0)$);
\draw[arr] ($(fsd.south)+(-9,20)$) -| ($(fsd.south)+(3,0)$);
\draw[arr] (stin) -- ($(st.south)+(3,0)$);
\draw[lnk] ($(rs.south)+(2,0)$) -- ++(0,16);
\draw[lnk] (sdok.south) -- ++(0,16);
\lab{963}{1482}{No – Esc} \lab{1050}{1566}{Del}
\tnode[lbl, fill=white] at (1095,1691) {Yes – «4»};
\tnode[lbl, fill=white] at (1146,1691) {No – Esc};
\lab{98}{1735}{Esc} \lab{91}{1806}{Setup / Menu}
\lab{424}{1712}{GNSS status}
\lab{958}{1918}{No – Esc} \lab{1008}{1918}{Yes – «5»} \lab{1103}{1918}{Esc}
\end{tikzpicture}
\end{document}
